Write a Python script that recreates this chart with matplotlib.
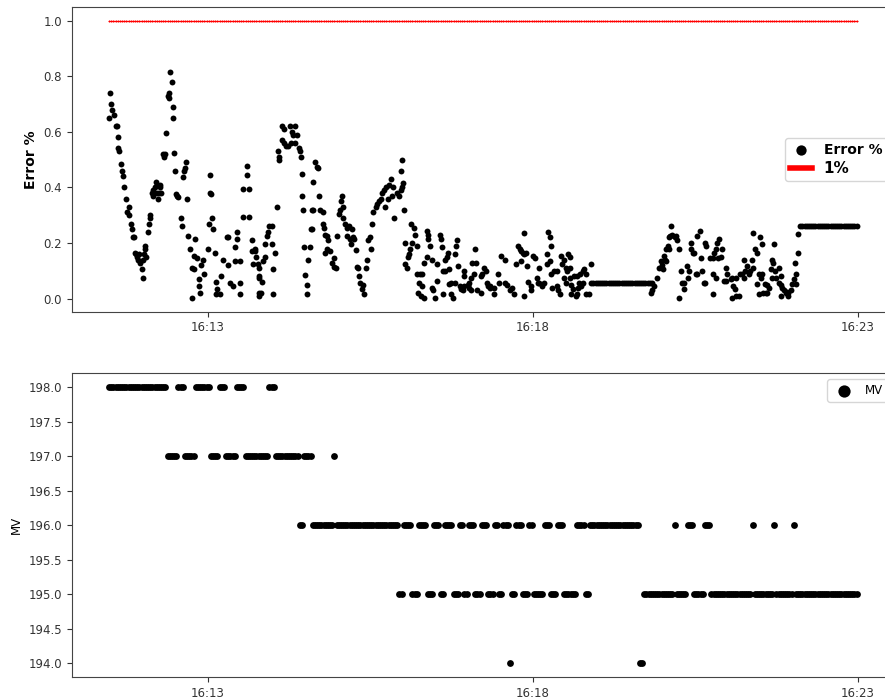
import numpy as np
import matplotlib
matplotlib.use("Agg")
import matplotlib.pyplot as plt
import matplotlib.dates as mdates

# ---------------- data ----------------
start_clock = "2021-01-01T16:11:00"

# Error % samples: seconds after 16:11:00 and value
err_seconds = [
    29,30,31,32,34,35,36,37,37,38,40,41,42,43,45,46,47,47,49,50,51,52,53,54,55,56,57,58,59,60,60,61,62,62,63,65,66,67,67,
    69,70,70,71,72,73,73,74,75,76,76,77,
    79,80,81,82,83,84,84,85,87,88,88,89,90,91,92,93,95,96,97,98,99,100,
    101,102,104,106,106,107,107,108,110,112,112,113,114,116,117,
    120,121,122,122,123,124,125,127,128,128,129,131,132,134,138,139,139,141,143,145,145,147,147,150,150,150,
    153,153,156,156,158,158,161,161,162,164,166,167,167,
    164,165,167,167,167,169,170,171,173,173,175,176,177,179,179,180,180,182,
    184,185,186,186,189,189,190,190,192,194,196,197,198,199,201,201,202,204,205,206,
    207,207,208,209,210,212,212,213,214,215,216,216,217,217,219,221,222,
    223,224,226,226,227,228,228,230,230,231,233,235,237,237,238,
    239,241,242,243,244,245,245,247,249,249,250,251,252,253,254,255,257,
    258,259,260,261,262,263,264,266,267,268,270,271,272,
    273,275,276,278,280,281,283,284,285,286,287,289,290,291,
    292,295,297,298,298,299,299,300,301,302,302,304,305,306,307,308,309,310,311,313,
    313,316,318,315,318,314,317,320,320,322,322,323,323,325,327,327,328,330,332,332,
    334,335,336,337,337,339,339,341,342,343,343,345,345,346,348,348,349,350,351,353,
    354,356,357,357,357,360,361,361,363,363,364,366,367,368,369,372,372,373,375,377,
    378,379,381,381,384,384,388,389,391,394,394,396,399,401,403,405,406,408,409,409,
    411,412,412,412,414,415,416,418,418,420,422,424,425,426,426,429,430,433,433,434,
    436,436,437,437,438,440,442,442,443,445,446,447,449,449,451,452,453,
    451,454,454,454,455,457,455,460,461,458,461,464,463,462,465,466,466,467,469,469,472,474,
    474,476,478,480,482,484,486,488,490,492,494,496,498,500,502,504,506,508,510,512,514,516,518,520,522,524,526,528,530,
    529,530,532,535,537,538,539,540,541,542,543,543,545,546,546,547,548,549,551,552,
    553,555,555,557,558,560,560,562,563,564,566,566,568,569,571,572,572,574,575,576,
    578,579,579,580,584,586,586,586,587,589,589,590,591,592,594,
    595,597,598,598,599,603,604,604,605,607,608,608,610,611,613,615,615,616,618,620,
    621,622,623,623,625,627,627,629,629,630,631,632,632,633,634,635,636,636,638,640,
    641,641,642,643,644,645,647,647,649,649,649,650,652,654,655,656,656,658,659,661,
    662,663,663,665,665,
    667,669,671,673,675,677,679,681,683,685,687,689,691,693,695,697,699,701,703,705,707,709,711,713,715,717,719,
]
err_values = [
    0.65,0.74,0.70,0.68,0.66,0.62,0.62,0.58,0.54,0.53,0.485,0.46,0.44,0.40,0.36,0.31,0.33,0.30,0.27,0.25,0.22,0.22,0.165,0.16,0.15,0.14,0.16,0.13,0.107,0.075,0.14,0.16,0.19,0.18,0.15,0.24,0.27,0.29,0.30,
    0.38,0.39,0.37,0.40,0.42,0.41,0.38,0.36,0.38,0.41,0.40,0.38,
    0.52,0.51,0.52,0.595,0.73,0.72,0.74,0.815,0.78,0.69,0.65,0.525,0.46,0.375,0.37,0.365,0.29,0.26,0.436,0.46,0.47,0.49,
    0.36,0.225,0.18,0.11,0.003,0.105,0.155,0.215,0.145,0.07,0.045,0.02,0.12,0.14,0.09,
    0.18,0.27,0.445,0.38,0.375,0.29,0.25,0.165,0.06,0.015,0.035,0.015,0.08,0.14,0.22,0.22,0.12,0.055,0.045,0.185,0.135,0.24,0.215,0.135,0.057,0.016,
    0.395,0.295,0.478,0.445,0.395,0.295,0.21,0.17,0.125,0.17,0.125,0.075,0.01,
    0.18,0.15,0.11,0.08,0.02,0.02,0.06,0.135,0.15,0.195,0.225,0.24,0.26,0.26,0.197,0.107,0.017,0.165,
    0.33,0.53,0.50,0.51,0.57,0.62,0.56,0.61,0.55,0.55,0.62,0.56,0.60,0.59,0.62,0.56,0.59,0.54,0.53,0.51,
    0.45,0.37,0.32,0.186,0.085,0.05,0.017,0.14,0.186,0.25,0.25,0.32,0.32,0.42,0.49,0.475,0.47,
    0.37,0.32,0.31,0.27,0.255,0.23,0.165,0.225,0.18,0.21,0.17,0.13,0.115,0.147,0.11,
    0.225,0.305,0.32,0.35,0.37,0.33,0.29,0.27,0.255,0.225,0.26,0.215,0.197,0.25,0.22,0.215,0.175,
    0.115,0.11,0.08,0.055,0.035,0.05,0.015,0.11,0.14,0.21,0.22,0.18,0.27,
    0.31,0.33,0.34,0.35,0.36,0.38,0.39,0.33,0.40,0.36,0.41,0.43,0.37,0.40,
    0.29,0.38,0.37,0.39,0.46,0.40,0.50,0.415,0.32,0.20,0.125,0.11,0.15,0.16,0.18,0.27,0.20,0.255,0.23,0.19,
    0.09,0.09,0.09,0.056,0.045,0.02,0.01,0.003,0.13,0.15,0.245,0.23,0.215,0.19,0.14,0.04,0.03,0.003,0.065,0.125,
    0.23,0.215,0.185,0.10,0.017,0.10,0.14,0.15,0.165,0.107,0.053,0.055,0.017,0.003,0.057,0.16,0.19,0.21,0.117,0.045,
    0.035,0.03,0.10,0.08,0.045,0.05,0.04,0.057,0.03,0.075,0.13,0.09,0.18,0.13,0.03,0.02,0.08,0.09,0.11,0.10,
    0.057,0.045,0.045,0.04,0.04,0.017,0.09,0.057,0.155,0.14,0.057,0.05,0.03,0.04,0.017,0.125,0.19,0.18,0.17,0.136,
    0.165,0.16,0.237,0.01,0.165,0.117,0.06,0.045,0.03,0.155,0.145,0.075,0.055,0.057,0.11,0.045,0.057,0.16,0.125,0.238,
    0.22,0.136,0.19,0.09,0.04,0.10,0.10,0.045,0.03,0.017,0.155,0.125,0.14,0.075,0.057,0.10,0.16,
    0.11,0.15,0.11,0.075,0.05,0.035,0.017,0.01,0.017,0.08,0.08,0.09,0.057,0.04,0.045,0.057,0.10,0.105,0.09,0.017,0.017,0.125,
    0.057,0.057,0.057,0.057,0.057,0.057,0.057,0.057,0.057,0.057,0.057,0.057,0.057,0.057,0.057,0.057,0.057,0.057,0.057,0.057,0.057,0.057,0.057,0.057,0.057,0.057,0.057,0.057,0.057,
    0.02,0.03,0.045,0.075,0.11,0.136,0.12,0.107,0.155,0.14,0.136,0.18,0.19,0.18,0.22,0.225,0.262,0.23,0.22,0.225,
    0.21,0.18,0.003,0.10,0.057,0.057,0.035,0.117,0.075,0.10,0.20,0.18,0.165,0.165,0.09,0.09,0.225,0.245,0.147,0.10,
    0.057,0.057,0.20,0.19,0.147,0.147,0.09,0.017,0.165,0.18,0.075,0.20,0.147,0.215,0.15,
    0.18,0.065,0.11,0.065,0.09,0.07,0.075,0.003,0.045,0.035,0.01,0.075,0.01,0.09,0.09,0.075,0.14,0.10,0.117,0.09,
    0.10,0.14,0.11,0.237,0.18,0.165,0.052,0.09,0.017,0.22,0.075,0.09,0.197,0.02,0.052,0.02,0.02,0.05,0.04,0.107,
    0.14,0.075,0.13,0.197,0.10,0.075,0.11,0.057,0.08,0.05,0.01,0.04,0.03,0.02,0.025,0.02,0.01,0.03,0.052,0.07,
    0.127,0.09,0.052,0.165,0.233,
    0.26,0.26,0.26,0.26,0.26,0.26,0.26,0.26,0.26,0.26,0.26,0.26,0.26,0.26,0.26,0.26,0.26,0.26,0.26,0.26,0.26,0.26,0.26,0.26,0.26,0.26,0.26,
]
assert len(err_seconds) == len(err_values), (len(err_seconds), len(err_values))

# MV / 1% line sampling: every 2 s from 16:11:29 to 16:22:59
sample_first_s, sample_last_s, sample_step_s = 29, 719, 2
threshold_value = 1.0

# MV as run-length encoded samples (level, number of consecutive samples)
mv_levels = [198,197,198,197,198,197,198,197,198,197,198,197,196,197,196,197,196,
             195,196,195,196,195,196,195,196,195,196,195,196,195,196,195,196,195,196,194,195,196,195,196,195,196,195,196,195,
             196,195,196,194,195,196,195,196,195,196,195,196,195,196,195,196,195]
mv_counts = [27,5,3,5,7,4,3,5,4,11,3,11,2,4,10,1,29,
             2,4,3,4,3,3,2,4,3,2,2,3,3,3,3,2,2,3,1,2,3,3,2,5,3,3,3,6,
             4,2,23,2,14,1,5,3,5,3,19,1,9,1,8,1,29]

# ---------------- derived ----------------
t0 = np.datetime64(start_clock)
err_time = t0 + np.array(err_seconds).astype("timedelta64[s]")
sample_seconds = np.arange(sample_first_s, sample_last_s + 1, sample_step_s)
sample_time = t0 + sample_seconds.astype("timedelta64[s]")
mv_values = np.repeat(mv_levels, mv_counts)
n = min(len(mv_values), len(sample_time))

# ---------------- figure ----------------
W, H = 885, 700
fig = plt.figure(figsize=(W / 100, H / 100), dpi=100)
left, right = 71.7, 894.0
ax1 = fig.add_axes([left / W, (H - 311.7) / H, (right - left) / W, (311.7 - 6.7) / H])
ax2 = fig.add_axes([left / W, (H - 677.3) / H, (right - left) / W, (677.3 - 373.3) / H])

ax1.scatter(err_time, err_values, s=18, c="black", linewidths=0, label="Error %")
ax1.plot(sample_time, np.full(len(sample_time), threshold_value), color="#ff0000",
         marker="+", ms=2.0, lw=1.0, mew=0.6, markeredgecolor="#ff0000",
         markerfacecolor="#ff0000", label="1%")
ax1.set_ylabel("Error %", fontsize=10, fontweight="bold")
leg1 = ax1.legend(loc="center right", prop={"weight": "bold", "size": 10},
                  handlelength=1.6, borderpad=0.35, labelspacing=0.3)
leg1.legend_handles[0].set_sizes([55])
leg1.legend_handles[1].set_linewidth(4)
leg1.legend_handles[1].set_marker("")
leg1.get_texts()[1].set_fontsize(11)

ax2.scatter(sample_time[:n], mv_values[:n], s=24, c="black", linewidths=0, label="MV")
ax2.set_ylabel("MV", fontsize=8.5)
ax2.legend(loc="upper right", markerscale=1.8, fontsize=8.5)

for ax in (ax1, ax2):
    ax.xaxis.set_major_locator(mdates.MinuteLocator(byminute=range(3, 60, 5)))
    ax.xaxis.set_major_formatter(mdates.DateFormatter("%H:%M"))
    ax.tick_params(labelsize=8.5, colors="#333333", labelcolor="#333333")
    for sp in ax.spines.values():
        sp.set_color("#444444")

fig.savefig("out.png", dpi=100)
